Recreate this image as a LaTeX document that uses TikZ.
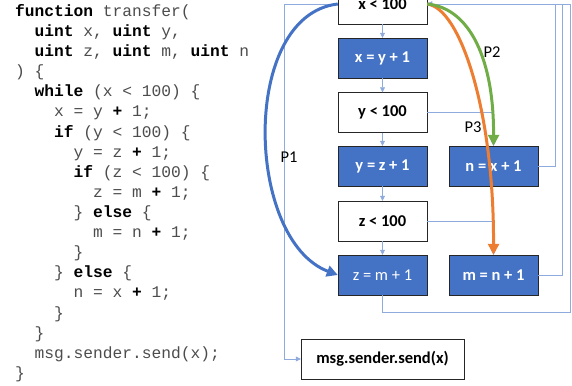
\documentclass[tikz,border=0pt]{standalone}
\usepackage{fontspec}
\usetikzlibrary{arrows.meta}
\setmainfont{Carlito}
\newfontfamily\codefont{Liberation Mono}
\definecolor{boxblue}{HTML}{4472C4}
\definecolor{flowblue}{HTML}{8FAADC}
\definecolor{pathgreen}{HTML}{70AD47}
\definecolor{pathorange}{HTML}{ED7D31}
\tikzset{
  code/.style={anchor=base west, inner sep=0pt, text=black!70, font=\codefont\fontsize{16.25}{20}\selectfont},
  cond/.style={draw=black!85, fill=white, minimum width=89pt, minimum height=40pt, inner sep=0pt, font=\bfseries\fontsize{16.5}{19}\selectfont},
  stmt/.style={cond, fill=boxblue, text=white},
  flow/.style={draw=flowblue, line width=0.6pt, -{Triangle[length=5pt,width=5pt]}},
  trace/.style={line width=3pt, -{Triangle[length=11pt,width=11pt]}},
  tag/.style={font=\fontsize{16.5}{19}\selectfont, inner sep=0pt}
}
\newcommand{\kw}[1]{\textcolor{black}{\bfseries #1}}
\begin{document}
\begin{tikzpicture}[x=1pt,y=-1pt]
\clip (0,0) rectangle (572,385);

\node[code] (c1) at (15,16.5) {\kw{function} transfer(};
\node[code] (c2) at (34.5,36.6) {\kw{uint} x, \kw{uint} y,};
\node[code] (c3) at (34.5,56.7) {\kw{uint} z, \kw{uint} m, \kw{uint} n};
\node[code] (c4) at (15,76.8) {) \{};
\node[code] (c5) at (34.5,96.9) {\kw{while} (x < 100) \{};
\node[code] (c6) at (54,117) {x = y \kw{+} 1;};
\node[code] (c7) at (54,137.1) {\kw{if} (y < 100) \{};
\node[code] (c8) at (73.5,157.2) {y = z \kw{+} 1;};
\node[code] (c9) at (73.5,177.3) {\kw{if} (z < 100) \{};
\node[code] (c10) at (93,197.4) {z = m \kw{+} 1;};
\node[code] (c11) at (73.5,217.5) {\} \kw{else} \{};
\node[code] (c12) at (93,237.6) {m = n \kw{+} 1;};
\node[code] (c13) at (73.5,257.7) {\}};
\node[code] (c14) at (54,277.8) {\} \kw{else} \{};
\node[code] (c15) at (73.5,297.9) {n = x \kw{+} 1;};
\node[code] (c16) at (54,318) {\}};
\node[code] (c17) at (34.5,338.1) {\}};
\node[code] (c18) at (34.5,358.2) {msg.sender.send(x);};
\node[code] (c19) at (15,378.3) {\}};

\node[cond] (xlt) at (382.5,4) {x < 100};
\node[stmt] (xy) at (382.5,58) {x = y + 1};
\node[cond] (ylt) at (382.5,112.5) {y < 100};
\node[stmt] (yz) at (382.5,166) {y = z + 1};
\node[cond] (zlt) at (382.5,221) {z < 100};
\node[stmt, font=\fontsize{16.5}{19}\selectfont] (zm) at (382.5,275) {z = m + 1};
\node[stmt] (nx) at (493.5,166) {n = x + 1};
\node[stmt] (mn) at (493.5,275) {m = n + 1};
\node[cond, minimum width=163pt] (send) at (382.5,359) {msg.sender.send(x)};

\draw[flow] (xlt) -- (xy);
\draw[flow] (xy) -- (ylt);
\draw[flow] (ylt) -- (yz);
\draw[flow] (yz) -- (zlt);
\draw[flow] (zlt) -- (zm);
\draw[flow] (ylt.east) -| (nx.north);
\draw[flow] (zlt.east) -| (mn.north);
\draw[flow] (xlt.west) -- (284,4) |- (send.west);
\draw[flow] (nx.east) -| (555,4) -- (xlt.east);
\draw[flow] (mn.east) -| (562,4) -- (xlt.east);
\draw[flow] (zm.south) |- (570,312) -- (570,4) -- (xlt.east);

\draw[trace, boxblue] (xlt.west) .. controls (240,15) and (245,240) .. (zm.west);
\draw[trace, pathorange] (xlt.east) .. controls (460,8) and (494,110) .. (mn.north);
\draw[trace, pathgreen] (xlt.east) .. controls (470,8) and (494,60) .. (nx.north);

\node[tag] (p1) at (289,157) {P1};
\node[tag] (p2) at (492,52) {P2};
\node[tag] (p3) at (473,127) {P3};
\end{tikzpicture}
\end{document}
